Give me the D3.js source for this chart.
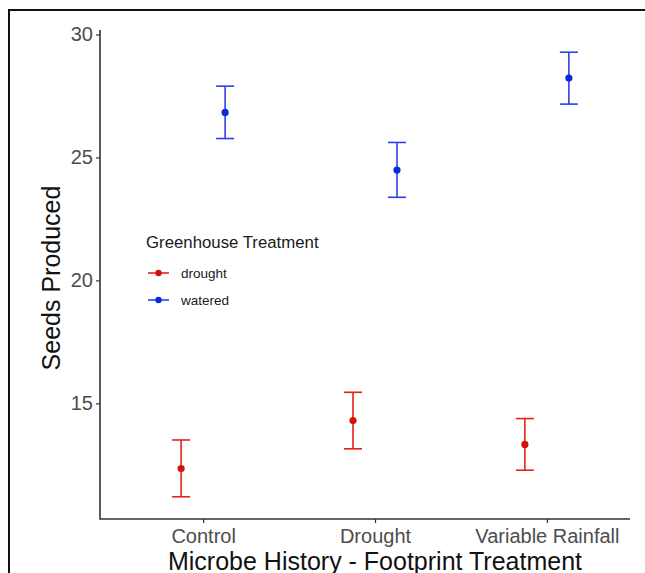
<!DOCTYPE html>
<html>
<head>
<meta charset="utf-8">
<script src="https://cdn.jsdelivr.net/npm/d3@7"></script>
<style>
  body { margin: 0; background: #fff; }
  svg { display: block; font-family: 'Liberation Sans', Arial, sans-serif; }
</style>
</head>
<body>
<svg id="chart" width="645" height="573"></svg>
<script>
// data
const categories = ['Control', 'Drought', 'Variable Rainfall']
const groups = ['drought', 'watered']
const droughtMean = [12.35, 14.30, 13.33]
const droughtLow  = [11.20, 13.15, 12.28]
const droughtHigh = [13.51, 15.45, 14.38]
const wateredMean = [26.83, 24.49, 28.23]
const wateredLow  = [25.77, 23.38, 27.17]
const wateredHigh = [27.90, 25.61, 29.28]
const yTicks = [15, 20, 25, 30]

const barColor = { drought: '#e3241b', watered: '#2b42e6' }
const dotColor = { drought: '#d3120c', watered: '#0d2ad8' }

const rows = []
categories.forEach((c, i) => {
  rows.push({ cat: c, grp: 'drought', mean: droughtMean[i], lo: droughtLow[i], hi: droughtHigh[i] })
  rows.push({ cat: c, grp: 'watered', mean: wateredMean[i], lo: wateredLow[i], hi: wateredHigh[i] })
})

const svg = d3.select('#chart')

// outer frame (only top and left are visible in the crop)
svg.append('path')
  .attr('d', 'M9,573 V10 H645')
  .attr('fill', 'none')
  .attr('stroke', '#111')
  .attr('stroke-width', 2)

const mLeft = 100, mBottom = 519, mTop = 30, mRight = 630

const yMin = d3.min(rows, d => d.lo), yMax = d3.max(rows, d => d.hi)
const pad = (yMax - yMin) * 0.05
const y = d3.scaleLinear().domain([yMin - pad, yMax + pad]).range([mBottom, mTop])
const x = d3.scalePoint().domain(categories).range([mLeft, 650]).padding(0.6)
const dodge = d3.scalePoint().domain(groups).range([-22, 22])

// axes
const yAxis = svg.append('g')
  .attr('transform', `translate(${mLeft},0)`)
  .call(d3.axisLeft(y).tickValues(yTicks).tickSize(4).tickPadding(3))
yAxis.select('.domain').remove()
yAxis.selectAll('line').attr('stroke', '#333').attr('stroke-width', 1.2)
yAxis.selectAll('text').attr('fill', '#4d4d4d').attr('font-size', 20)
  .attr('font-family', "'Liberation Sans', Arial, sans-serif")

const xAxis = svg.append('g')
  .attr('transform', `translate(0,${mBottom})`)
  .call(d3.axisBottom(x).tickSize(4).tickPadding(6))
xAxis.select('.domain').remove()
xAxis.selectAll('line').attr('stroke', '#333').attr('stroke-width', 1.2)
xAxis.selectAll('text').attr('fill', '#4d4d4d').attr('font-size', 20)
  .attr('font-family', "'Liberation Sans', Arial, sans-serif")

svg.append('path')
  .attr('d', `M${mLeft},${mTop} V${mBottom} H${mRight}`)
  .attr('fill', 'none')
  .attr('stroke', '#333')
  .attr('stroke-width', 1.6)

// error bars
const cap = 9
const bars = svg.append('g').selectAll('g').data(rows).join('g')
  .attr('transform', d => `translate(${x(d.cat) + dodge(d.grp)},0)`)
  .attr('stroke', d => barColor[d.grp])
  .attr('stroke-width', 1.6)
bars.append('line').attr('y1', d => y(d.lo)).attr('y2', d => y(d.hi))
bars.append('line').attr('x1', -cap).attr('x2', cap).attr('y1', d => y(d.hi)).attr('y2', d => y(d.hi))
bars.append('line').attr('x1', -cap).attr('x2', cap).attr('y1', d => y(d.lo)).attr('y2', d => y(d.lo))
bars.append('circle').attr('cy', d => y(d.mean)).attr('r', 3.6)
  .attr('fill', d => dotColor[d.grp]).attr('stroke', 'none')

// legend
const legend = svg.append('g').attr('transform', 'translate(146,248)')
legend.append('text').text('Greenhouse Treatment')
  .attr('font-size', 16.8).attr('fill', '#1a1a1a')
const items = legend.selectAll('.item').data(groups).join('g')
  .attr('class', 'item')
  .attr('transform', (d, i) => `translate(0,${25 + i * 27})`)
items.append('line').attr('x1', 2).attr('x2', 23)
  .attr('stroke', d => barColor[d]).attr('stroke-width', 1.6)
items.append('circle').attr('cx', 12.5).attr('r', 3.2).attr('fill', d => dotColor[d])
items.append('text').text(d => d).attr('x', 35).attr('y', 5)
  .attr('font-size', 13.5).attr('fill', '#1a1a1a')

// axis titles
svg.append('text')
  .attr('x', 375).attr('y', 570)
  .attr('text-anchor', 'middle')
  .attr('font-size', 25).attr('fill', '#111')
  .text('Microbe History - Footprint Treatment')

svg.append('text')
  .attr('transform', 'translate(60,278) rotate(-90)')
  .attr('text-anchor', 'middle')
  .attr('font-size', 25).attr('fill', '#111')
  .text('Seeds Produced')
</script>
</body>
</html>
